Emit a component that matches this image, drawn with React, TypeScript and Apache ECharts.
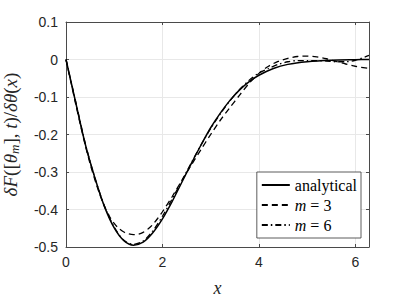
import React, { useEffect, useRef } from "react";
import * as echarts from "echarts";

const X_MAX = 6.2832;
const xTickLabels = ["0", "2", "4", "6"];
const yTickLabels = ["0.1", "0", "-0.1", "-0.2", "-0.3", "-0.4", "-0.5"];

const xAnalytical = [0, 0.2, 0.4, 0.6, 0.8, 1.0, 1.2, 1.4, 1.6, 1.8, 2.0, 2.2, 2.4, 2.6, 2.8, 3.0, 3.2, 3.4, 3.6, 3.8, 4.0, 4.3, 4.6, 5.0, 5.5, 6.0, 6.2832];
const yAnalytical = [0, -0.114, -0.226, -0.316, -0.393, -0.449, -0.483, -0.495, -0.487, -0.462, -0.425, -0.379, -0.328, -0.277, -0.228, -0.182, -0.143, -0.109, -0.081, -0.059, -0.042, -0.024, -0.013, -0.006, -0.002, -0.0005, 0];

const xM3 = [0, 0.1, 0.2, 0.3, 0.4, 0.5, 0.6, 0.7, 0.8, 0.9, 1.0, 1.1, 1.2, 1.3, 1.4, 1.5, 1.6, 1.7, 1.8, 1.9, 2.0, 2.2, 2.4, 2.5, 2.6, 2.8, 3.0, 3.2, 3.4, 3.6, 3.8, 4.0, 4.2, 4.4, 4.6, 4.8, 5.0, 5.2, 5.4, 5.6, 5.8, 6.0, 6.2832];
const yM3 = [0, -0.059, -0.118, -0.175, -0.229, -0.278, -0.321, -0.36, -0.392, -0.418, -0.437, -0.451, -0.46, -0.465, -0.467, -0.466, -0.461, -0.452, -0.44, -0.424, -0.406, -0.366, -0.323, -0.302, -0.281, -0.24, -0.2, -0.162, -0.128, -0.095, -0.063, -0.037, -0.018, -0.005, 0.003, 0.008, 0.009, 0.007, 0.002, -0.005, -0.012, -0.018, -0.024];

const xM6 = [0, 0.2, 0.4, 0.6, 0.8, 1.0, 1.2, 1.4, 1.6, 1.8, 2.0, 2.2, 2.4, 2.6, 2.8, 3.0, 3.2, 3.4, 3.6, 3.8, 4.0, 4.2, 4.4, 4.6, 4.8, 5.0, 5.2, 5.4, 5.6, 5.8, 6.0, 6.2832];
const yM6 = [0, -0.112, -0.224, -0.316, -0.392, -0.447, -0.482, -0.493, -0.484, -0.457, -0.418, -0.372, -0.324, -0.275, -0.228, -0.184, -0.145, -0.11, -0.08, -0.055, -0.036, -0.024, -0.013, -0.006, -0.003, -0.003, -0.003, -0.004, -0.006, -0.006, -0.002, 0.011];

const pairs = (xs: number[], ys: number[]) => xs.map((x, i) => [x, ys[i]]);

const AXIS_COLOR = "#4a4a4a";
const TEXT_COLOR = "#262626";
const SERIF = "'Liberation Serif', 'DejaVu Serif', serif";
const SANS = "'Liberation Sans', Arial, sans-serif";

export default function App() {
  const ref = useRef<HTMLDivElement>(null);
  useEffect(() => {
    if (!ref.current) return;
    const chart = echarts.init(ref.current, undefined, { renderer: "svg" });
    const lineCommon = { type: "line", showSymbol: false, symbol: "none", smooth: 0.3, z: 3 };
    chart.setOption({
      animation: false,
      backgroundColor: "#ffffff",
      grid: { left: 66, right: 40, top: 22, bottom: 53, containLabel: false, outerBoundsMode: "none" },
      legend: {
        right: 48,
        bottom: 62,
        orient: "vertical",
        backgroundColor: "#ffffff",
        borderColor: "#333333",
        borderWidth: 0.8,
        borderRadius: 0,
        padding: [5, 4, 5, 4],
        itemGap: 4,
        itemWidth: 28,
        itemHeight: 16,
        itemStyle: { opacity: 0, borderWidth: 0 },
        data: ["analytical", "m = 3", "m = 6"],
        formatter: (name: string) => (name.startsWith("m") ? `{i|m}${name.slice(1)}` : name),
        textStyle: {
          fontFamily: SERIF,
          fontSize: 16,
          color: "#000",
          rich: { i: { fontFamily: SERIF, fontStyle: "italic", fontSize: 16, color: "#000" } },
        },
      },
      xAxis: [
        {
          type: "value",
          min: 0,
          max: X_MAX,
          interval: 2,
          name: "x",
          nameLocation: "middle",
          nameGap: 32,
          nameTextStyle: { fontFamily: SERIF, fontStyle: "italic", fontSize: 18, color: TEXT_COLOR },
          axisLine: { show: true, onZero: false, lineStyle: { color: AXIS_COLOR, width: 1 } },
          axisTick: { show: true, inside: true, length: 3, lineStyle: { color: AXIS_COLOR } },
          axisLabel: {
            margin: 8,
            fontFamily: SANS,
            fontSize: 14,
            color: TEXT_COLOR,
            showMaxLabel: false,
            formatter: (v: number) => {
              const idx = Math.round(v / 2);
              return Math.abs(v - idx * 2) < 1e-6 ? xTickLabels[idx] ?? "" : "";
            },
          },
          splitLine: { show: true, lineStyle: { color: "#e8e8e8", width: 1 } },
        },
        {
          type: "value",
          position: "top",
          min: 0,
          max: X_MAX,
          interval: 2,
          axisLine: { show: true, onZero: false, lineStyle: { color: AXIS_COLOR, width: 1 } },
          axisTick: { show: true, inside: true, length: 3, lineStyle: { color: AXIS_COLOR } },
          axisLabel: { show: false },
          splitLine: { show: false },
        },
      ],
      yAxis: [
        {
          type: "value",
          min: -0.5,
          max: 0.1,
          interval: 0.1,
          name: "{i|δF}([{i|θ}{s|m}], {i|t})/{i|δθ}({i|x})",
          nameLocation: "middle",
          nameGap: 45,
          nameRotate: 90,
          nameTextStyle: {
            fontFamily: SERIF,
            fontSize: 19,
            color: TEXT_COLOR,
            rich: {
              i: { fontFamily: SERIF, fontStyle: "italic", fontSize: 19, color: TEXT_COLOR },
              s: { fontFamily: SERIF, fontStyle: "italic", fontSize: 13, color: TEXT_COLOR, verticalAlign: "bottom", padding: [8, 0, 0, 0] },
            },
          },
          axisLine: { show: true, onZero: false, lineStyle: { color: AXIS_COLOR, width: 1 } },
          axisTick: { show: true, inside: true, length: 3, lineStyle: { color: AXIS_COLOR } },
          axisLabel: {
            margin: 8,
            fontFamily: SANS,
            fontSize: 14,
            color: TEXT_COLOR,
            formatter: (v: number) => {
              const idx = Math.round((0.1 - v) / 0.1);
              return yTickLabels[idx] ?? "";
            },
          },
          splitLine: { show: true, lineStyle: { color: "#e8e8e8", width: 1 } },
        },
        {
          type: "value",
          position: "right",
          min: -0.5,
          max: 0.1,
          interval: 0.1,
          axisLine: { show: true, onZero: false, lineStyle: { color: AXIS_COLOR, width: 1 } },
          axisTick: { show: true, inside: true, length: 3, lineStyle: { color: AXIS_COLOR } },
          axisLabel: { show: false },
          splitLine: { show: false },
        },
      ],
      series: [
        {
          ...lineCommon,
          name: "analytical",
          data: pairs(xAnalytical, yAnalytical),
          lineStyle: { color: "#000", width: 1.5, type: "solid" },
          itemStyle: { color: "#000" },
        },
        {
          ...lineCommon,
          name: "m = 3",
          data: pairs(xM3, yM3),
          lineStyle: { color: "#000", width: 1.3, type: [6, 4] },
          itemStyle: { color: "#000" },
        },
        {
          ...lineCommon,
          name: "m = 6",
          data: pairs(xM6, yM6),
          lineStyle: { color: "#000", width: 1.3, type: [6, 3, 1.5, 3] },
          itemStyle: { color: "#000" },
        },
      ],
    });
    return () => chart.dispose();
  }, []);
  return <div ref={ref} style={{ width: 409, height: 300, position: "absolute", left: 0, top: 0 }} />;
}
